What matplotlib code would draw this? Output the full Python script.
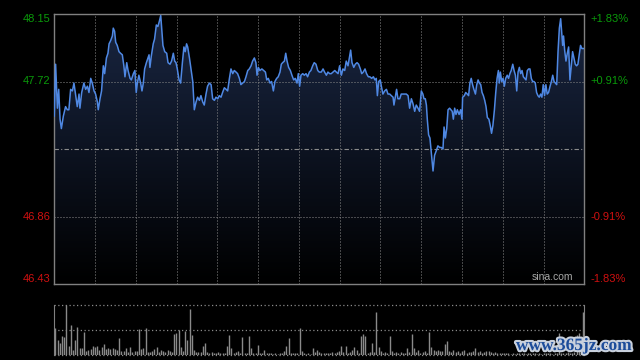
#intraday price chart (sina style)

import numpy as np
import matplotlib
matplotlib.use('Agg')
import matplotlib.pyplot as plt
from matplotlib.patches import Polygon
import matplotlib.patheffects as pe
import matplotlib.transforms as mtransforms

plt.rcParams['font.family'] = ['Liberation Sans', 'DejaVu Sans']

#price axis labels
price_ticks = [48.15, 47.72, 46.86, 46.43]
price_labels = ['48.15', '47.72', '46.86', '46.43']
pct_labels = ['+1.83%', '+0.91%', '-0.91%', '-1.83%']
prev_close = 47.29

#minutes after open and price
minutes = [
    0.0, 0.6, 1.4, 2.0, 2.6, 3.2, 4.1, 5.1, 5.9, 6.6, 7.4, 8.2, 8.9, 9.7, 10.4, 11.2, 11.6, 12.4,
    13.4, 14.2, 15.0, 15.7, 16.5, 17.2, 18.0, 18.7, 19.5, 19.9, 20.7, 21.4, 22.2, 22.8, 23.6, 24.3,
    24.8, 25.5, 26.3, 26.7, 27.3, 27.8, 28.5, 29.3, 30.0, 30.8, 31.5, 32.0, 32.8, 33.4, 34.3, 34.9,
    35.8, 36.5, 37.1, 37.6, 38.3, 39.1, 39.7, 40.3, 40.9, 41.7, 42.4, 42.9, 43.3, 43.9, 44.8, 45.4,
    46.2, 46.9, 47.5, 48.2, 48.6, 49.2, 50.0, 50.9, 51.5, 52.4, 53.1, 53.9, 54.5, 55.1, 55.7, 56.5,
    57.2, 58.0, 58.7, 59.3, 59.9,
    60.4, 61.2, 61.9, 62.7, 63.4, 64.2, 64.9, 65.7, 66.4, 67.2, 67.9, 68.7, 69.4, 70.2, 71.0, 71.7,
    72.5, 73.2, 74.0, 74.7, 75.5, 76.2, 77.0, 77.8, 78.5, 79.3, 80.0, 80.8, 81.5, 82.3, 83.0, 83.8,
    84.5, 85.3, 86.1, 86.8, 87.6, 88.3, 89.1, 89.8, 90.6, 91.3, 91.8, 92.4, 93.1, 94.0, 94.8, 95.6,
    96.2, 96.9, 97.7, 98.4, 99.2, 99.9, 100.7, 101.4, 102.2, 102.8, 103.4, 104.2, 104.8, 105.4,
    106.1, 106.9, 107.6, 108.4, 109.1, 109.9, 110.5, 111.1, 111.7, 112.5, 113.2, 114.0, 114.7,
    115.5, 116.2, 117.0, 117.7, 118.5, 119.3, 120.0,
    120.9, 121.7, 122.4, 123.2, 123.9, 124.7, 125.4, 126.2, 127.0, 127.7, 128.5, 129.2, 130.0,
    130.7, 131.5, 132.2, 133.0, 133.7, 134.2, 134.8, 135.6, 136.3, 137.1, 137.8, 138.6, 139.2,
    139.9, 140.7, 141.4, 142.2, 142.9, 143.7, 144.5, 145.2, 145.8, 146.3, 146.9, 147.6, 148.1,
    148.8, 149.6, 150.4, 151.1, 151.9, 152.6, 153.4, 153.8, 154.4, 155.0, 155.6, 156.4, 157.1,
    157.9, 158.6, 159.4, 160.2, 160.9, 161.7, 162.4, 163.2, 163.9, 164.7, 165.4, 166.2, 166.9,
    167.4, 168.0, 168.5, 168.9, 169.5, 170.1, 170.7, 171.5, 172.2, 173.0, 173.7, 174.5, 175.2,
    176.0, 176.5, 177.1, 177.7, 178.3, 179.0,
    179.6, 180.2, 180.7, 181.3, 181.9, 182.5, 183.3, 184.0, 184.6, 184.9, 185.7, 186.3, 187.0,
    187.6, 188.2, 188.8, 189.4, 190.0, 190.7, 191.3, 191.9, 192.5, 193.1, 193.7, 194.3, 194.9,
    195.5, 196.1, 196.8, 197.4, 198.0, 198.6, 199.3, 199.9, 200.5, 201.1, 201.5, 202.0, 202.6,
    203.2, 203.8, 204.4, 205.1, 205.7, 206.3, 206.9, 207.6, 208.2, 208.8, 209.4, 210.0, 210.6,
    211.2, 211.8, 212.4, 213.0, 213.6, 214.2, 214.8, 215.4, 216.0, 216.6, 217.2, 217.8, 218.4,
    219.0, 219.6, 220.2, 220.8, 221.4, 222.0, 222.6, 223.2, 223.8, 224.5, 225.1, 225.7, 226.3,
    226.9, 227.5, 228.1, 228.7, 229.3, 229.7, 230.2, 230.6, 231.1, 231.7, 232.3, 232.9, 233.5,
    234.1, 234.7, 235.3, 235.9, 236.5, 237.1, 237.7, 238.3, 238.9, 239.5, 240.0,
]
prices = [
    47.50, 47.83, 47.55, 47.67, 47.48, 47.42, 47.50, 47.56, 47.54, 47.54, 47.67, 47.66, 47.71, 47.63,
    47.56, 47.64, 47.55, 47.65, 47.71, 47.67, 47.69, 47.65, 47.74, 47.71, 47.66, 47.64, 47.59, 47.54,
    47.61, 47.66, 47.82, 47.77, 47.87, 47.90, 47.96, 47.98, 48.01, 48.06, 48.04, 47.97, 47.95, 47.91,
    47.90, 47.89, 47.82, 47.75, 47.84, 47.79, 47.74, 47.73, 47.77, 47.79, 47.65, 47.71, 47.76, 47.71,
    47.66, 47.71, 47.80, 47.84, 47.87, 47.89, 47.81, 47.88, 47.96, 47.99, 48.08, 48.07, 48.10, 48.14,
    48.06, 47.95, 47.91, 47.90, 47.84, 47.83, 47.85, 47.90, 47.85, 47.84, 47.80, 47.73, 47.71, 47.84,
    47.94, 47.91, 47.96,
    47.94, 47.87, 47.80, 47.72, 47.54, 47.59, 47.62, 47.60, 47.63, 47.59, 47.57, 47.64, 47.69, 47.71,
    47.70, 47.61, 47.60, 47.62, 47.61, 47.63, 47.62, 47.65, 47.68, 47.67, 47.66, 47.74, 47.80, 47.77,
    47.79, 47.78, 47.77, 47.74, 47.70, 47.71, 47.72, 47.75, 47.79, 47.80, 47.82, 47.85, 47.87, 47.84,
    47.76, 47.81, 47.79, 47.80, 47.79, 47.78, 47.73, 47.74, 47.71, 47.72, 47.66, 47.72, 47.74, 47.75,
    47.78, 47.83, 47.84, 47.85, 47.90, 47.85, 47.81, 47.79, 47.76, 47.73, 47.74, 47.71, 47.77, 47.69,
    47.76, 47.77, 47.76, 47.77, 47.75, 47.78, 47.79, 47.82, 47.84, 47.83, 47.79, 47.78,
    47.78, 47.80, 47.78, 47.76, 47.78, 47.77, 47.77, 47.78, 47.79, 47.78, 47.77, 47.82, 47.76, 47.80,
    47.79, 47.85, 47.82, 47.88, 47.92, 47.84, 47.81, 47.83, 47.84, 47.83, 47.80, 47.77, 47.78, 47.80,
    47.77, 47.75, 47.75, 47.74, 47.75, 47.73, 47.74, 47.63, 47.72, 47.73, 47.69, 47.64, 47.66, 47.67,
    47.64, 47.64, 47.63, 47.62, 47.57, 47.62, 47.67, 47.61, 47.61, 47.64, 47.64, 47.64, 47.64, 47.63,
    47.55, 47.61, 47.58, 47.53, 47.57, 47.55, 47.53, 47.66, 47.64, 47.61, 47.61, 47.57, 47.48, 47.38,
    47.36, 47.27, 47.15, 47.25, 47.28, 47.31, 47.30, 47.30, 47.29, 47.43, 47.36, 47.42, 47.54, 47.55,
    47.54, 47.53, 47.48, 47.55, 47.51, 47.54, 47.51, 47.54, 47.48, 47.62, 47.63, 47.65, 47.64, 47.63,
    47.71, 47.74, 47.70, 47.67, 47.64, 47.70, 47.73, 47.71, 47.70, 47.65, 47.63, 47.60, 47.56, 47.49,
    47.48, 47.44, 47.39, 47.44, 47.54, 47.65, 47.74, 47.79, 47.71, 47.78, 47.72, 47.74, 47.69, 47.74,
    47.76, 47.74, 47.77, 47.79, 47.83, 47.79, 47.76, 47.66, 47.78, 47.81, 47.77, 47.79, 47.75, 47.74,
    47.73, 47.79, 47.80, 47.80, 47.74, 47.72, 47.72, 47.71, 47.65, 47.63, 47.62, 47.64, 47.62, 47.70,
    47.63, 47.70, 47.64, 47.65, 47.69, 47.72, 47.76, 47.72, 47.71, 47.70, 47.91, 48.06, 48.12, 48.04,
    47.95, 48.01, 47.92, 47.85, 47.90, 47.94, 47.73, 47.82, 47.91, 47.87, 47.83, 47.82, 47.83, 47.89,
    47.95, 47.93, 47.93, 47.93,
]

#volume per minute (percent of panel height)
volume = [
    53, 30, 23, 38, 36, 100, 17, 60, 10, 30,
    56, 13, 13, 46, 7, 10, 11, 17, 15, 18,
    10, 15, 22, 11, 13, 11, 13, 11, 10, 33,
    8, 7, 13, 5, 15, 5, 8, 8, 51, 11,
    13, 53, 5, 5, 7, 11, 15, 5, 10, 8,
    5, 10, 7, 5, 42, 44, 50, 15, 7, 48,
    30, 91, 40, 10, 5, 6, 5, 17, 23, 5,
    4, 6, 4, 4, 6, 4, 3, 4, 17, 40,
    13, 4, 6, 8, 3, 36, 4, 3, 38, 13,
    4, 3, 20, 3, 3, 10, 4, 3, 3, 2,
    3, 2, 3, 3, 7, 17, 33, 4, 4, 4,
    4, 53, 7, 4, 2, 3, 2, 13, 5, 10,
    6, 3, 3, 3, 4, 3, 5, 4, 5, 7,
    18, 5, 17, 4, 5, 10, 15, 10, 4, 38,
    42, 38, 4, 6, 23, 5, 85, 15, 8, 4,
    6, 4, 38, 8, 4, 6, 3, 5, 4, 4,
    13, 5, 42, 13, 5, 10, 3, 6, 8, 4,
    46, 15, 10, 8, 10, 7, 8, 22, 28, 8,
    6, 10, 5, 8, 4, 7, 10, 4, 6, 5,
    8, 13, 5, 8, 4, 6, 8, 7, 5, 4,
    6, 4, 3, 4, 3, 3, 3, 2, 3, 2,
    3, 3, 4, 3, 2, 3, 4, 3, 3, 2,
    3, 2, 3, 4, 3, 3, 2, 3, 4, 44,
    3, 4, 3, 5, 3, 4, 6, 40, 44, 10,
    85,
]

#--------------
fig = plt.figure(figsize=(6.4, 3.6), dpi=100, facecolor='black')

ax = fig.add_axes([54.3 / 640, 76 / 360, 530 / 640, 270 / 360], facecolor='black')
ax.set_xlim(0, 240)
ax.set_ylim(46.43, 48.15)

grid_c = '#8a8a8a'
dots = (0, (1, 2))
for k in range(1, 13):
    ax.axvline(k * 240 / 13, color=grid_c, lw=0.72, ls=dots, zorder=1)
for v in [47.72, 46.86]:
    ax.axhline(v, color=grid_c, lw=0.72, ls=dots, zorder=1)
ax.axhline(prev_close, color='#8c8c8c', lw=0.8, ls=(0, (4, 2, 1, 2)), zorder=1)

#gradient fill under the line
grad = np.linspace(1, 0, 256).reshape(-1, 1)
top = np.array([0.10, 0.15, 0.26])
img = grad[..., None] * top[None, None, :]
im = ax.imshow(img, extent=[0, 240, 46.43, 48.15], aspect='auto', origin='upper', zorder=0.5)
verts = [(minutes[0], 46.43)] + list(zip(minutes, prices)) + [(minutes[-1], 46.43)]
poly = Polygon(verts, closed=True, facecolor='none', edgecolor='none')
ax.add_patch(poly)
im.set_clip_path(poly)

ax.plot(minutes, prices, color='#4f88e3', lw=1.1, zorder=3)

for s in ax.spines.values():
    s.set_color('#808080')
    s.set_linewidth(1.0)
ax.set_xticks([])
ax.set_yticks([])

trans_l = mtransforms.blended_transform_factory(ax.transAxes, ax.transData)
for i, (v, lab, pl) in enumerate(zip(price_ticks, price_labels, pct_labels)):
    col = '#0a9a0a' if v > prev_close else '#d01010'
    va = 'center'
    if i == 0:
        va = 'top'
    elif i == len(price_ticks) - 1:
        va = 'bottom'
    ax.text(-0.007, v, lab, transform=trans_l, ha='right', va=va, color=col, fontsize=8)
    ax.text(1.011, v, pl, transform=trans_l, ha='left', va=va, color=col, fontsize=8)

ax.text(0.979, 0.006, 'sina.com', transform=ax.transAxes, ha='right', va='bottom',
        color='#a8a8a8', fontsize=7.5)

#volume panel
vax = fig.add_axes([54.3 / 640, 5 / 360, 530 / 640, 50.3 / 360], facecolor='black')
vax.set_xlim(-0.5, 240.5)
vax.set_ylim(0, 100)
vax.vlines(np.arange(len(volume)), 0, volume, color='#8a8a8a', lw=1.0)
for v in [50, 100, 0]:
    vax.axhline(v, color=grid_c, lw=0.9, ls=dots, clip_on=False)
vax.spines['top'].set_visible(False)
vax.spines['bottom'].set_visible(False)
vax.spines['left'].set_color('#808080')
vax.spines['right'].set_color('#808080')
vax.set_xticks([])
vax.set_yticks([])

#watermark
fig.text(574 / 640, 14 / 360, 'www.365jz.com', ha='center', va='center',
         fontsize=12.5, fontweight='bold', family='Liberation Serif', color='#1c4c9a',
         path_effects=[pe.withStroke(linewidth=3, foreground='#c8d0dc')])

fig.savefig('out.png', dpi=100, facecolor='black')
